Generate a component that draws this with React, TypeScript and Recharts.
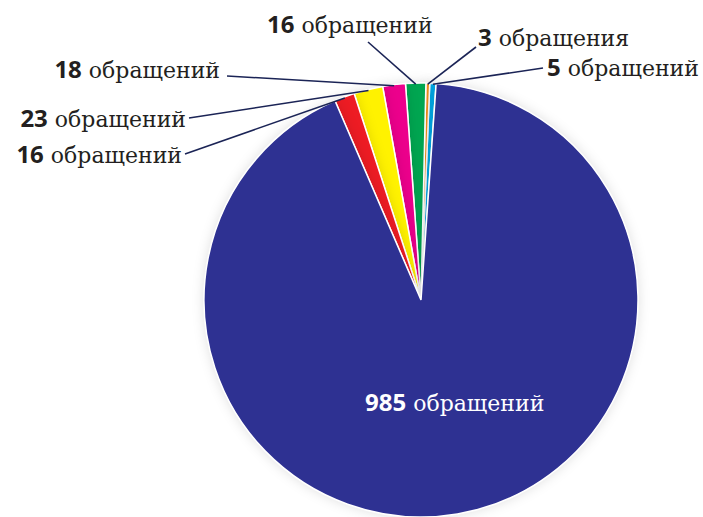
import { PieChart, Pie, Cell } from "recharts";

// slices in counter-clockwise order, starting just right of 12 o'clock
const sliceKeys = ["light-blue", "orange", "green", "magenta", "yellow", "red", "blue"];
const counts = [5, 3, 16, 18, 23, 16, 985];
const words = ["обращений", "обращения", "обращений", "обращений", "обращений", "обращений", "обращений"];
const colors = ["#00aeef", "#f7941d", "#00a651", "#ec008c", "#fff200", "#ed1c24", "#2e3192"];

const data = sliceKeys.map((key, i) => ({ key, value: counts[i], word: words[i] }));

// where each caption sits (text anchor + start of its leader line)
const spots = [
  { x: 547, y: 76, anchor: "start", lx: 543, ly: 68 },
  { x: 478, y: 46, anchor: "start", lx: 476, ly: 47 },
  { x: 267, y: 33, anchor: "start", lx: 368, ly: 42 },
  { x: 220, y: 78, anchor: "end", lx: 227, ly: 76 },
  { x: 186, y: 127, anchor: "end", lx: 189, ly: 118 },
  { x: 182, y: 163, anchor: "end", lx: 185, ly: 154 },
  { x: 365, y: 411, anchor: "start", lx: 0, ly: 0 },
];

const RAD = Math.PI / 180;

function renderLabel(p: any) {
  const i = p.index;
  const s = spots[i];
  const inside = i === data.length - 1;
  const ex = p.cx + (p.outerRadius - 1) * Math.cos(-p.midAngle * RAD);
  const ey = p.cy + (p.outerRadius - 1) * Math.sin(-p.midAngle * RAD);
  return (
    <g key={"lbl-" + i}>
      {!inside && <line x1={s.lx} y1={s.ly} x2={ex} y2={ey} stroke="#1b2456" strokeWidth={1.6} />}
      <text x={s.x} y={s.y} textAnchor={s.anchor} fill={inside ? "#ffffff" : "#231f20"} fontSize={24}>
        <tspan fontFamily="Open Sans" fontWeight={700}>{data[i].value}</tspan>
        <tspan fontFamily="DejaVu Serif" fontSize={22}> {data[i].word}</tspan>
      </text>
    </g>
  );
}

export default function App() {
  return (
    <div style={{ width: 703, height: 517, background: "#fff" }}>
      <style>{"body{margin:0}"}</style>
      <PieChart width={703} height={517} margin={{ top: 0, right: 0, bottom: 0, left: 0 }}>
        <Pie
          data={data}
          dataKey="value"
          nameKey="key"
          cx={421}
          cy={300}
          outerRadius={217}
          startAngle={86}
          endAngle={446}
          stroke="#ffffff"
          strokeWidth={1.5}
          label={renderLabel}
          labelLine={false}
          isAnimationActive={false}
          style={{ filter: "drop-shadow(0 0 6px rgba(0,0,0,0.12))" }}
        >
          {data.map((d, i) => (
            <Cell key={d.key} fill={colors[i]} />
          ))}
        </Pie>
      </PieChart>
    </div>
  );
}
